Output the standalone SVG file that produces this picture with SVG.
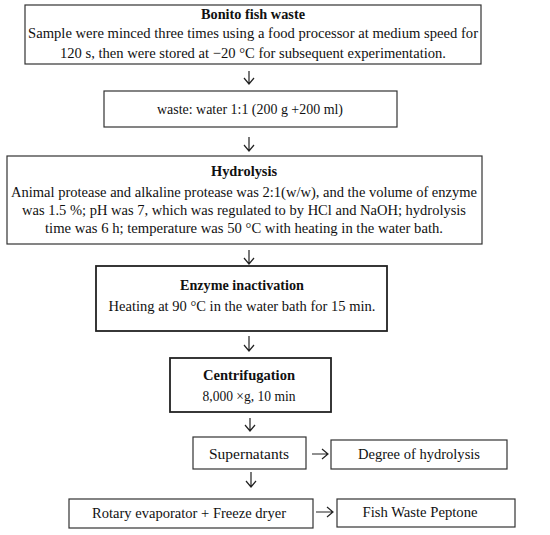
<svg xmlns="http://www.w3.org/2000/svg" width="550" height="535" viewBox="0 0 550 535">
<style>
.b{fill:#fff;stroke:#333;stroke-width:1.2}
.bt{fill:#fff;stroke:#222;stroke-width:1.8}
text{font-family:"Liberation Serif","Times New Roman",serif;font-size:15px;fill:#111;text-anchor:middle}
.h{font-weight:bold}
.c{fill:none;stroke:#222;stroke-width:1.2}
</style>
<rect width="550" height="535" fill="#fff"/>
<g id="n1">
<rect class="b" x="25" y="5" width="456" height="59"/>
<text class="h" x="253" y="19" textLength="104" lengthAdjust="spacingAndGlyphs">Bonito fish waste</text>
<text x="253" y="38" textLength="450" lengthAdjust="spacingAndGlyphs">Sample were minced three times using a food processor at medium speed for</text>
<text x="253" y="58" textLength="386" lengthAdjust="spacingAndGlyphs">120 s, then were stored at −20 °C for subsequent experimentation.</text>
</g>
<g id="n2">
<rect class="b" x="104" y="91" width="293" height="36"/>
<text x="250" y="114" textLength="186" lengthAdjust="spacingAndGlyphs">waste: water 1:1 (200 g +200 ml)</text>
</g>
<g id="n3">
<rect class="b" x="7" y="156" width="475" height="88"/>
<text class="h" x="244" y="176" textLength="66" lengthAdjust="spacingAndGlyphs">Hydrolysis</text>
<text x="244" y="197" textLength="466" lengthAdjust="spacingAndGlyphs">Animal protease and alkaline protease was 2:1(w/w), and the volume of enzyme</text>
<text x="244" y="215" textLength="444" lengthAdjust="spacingAndGlyphs">was 1.5 %; pH was 7, which was regulated to by HCl and NaOH; hydrolysis</text>
<text x="244" y="233" textLength="398" lengthAdjust="spacingAndGlyphs">time was 6 h; temperature was 50 °C with heating in the water bath.</text>
</g>
<g id="n4">
<rect class="bt" x="96" y="266" width="291" height="65"/>
<text class="h" x="242" y="290" textLength="124" lengthAdjust="spacingAndGlyphs">Enzyme inactivation</text>
<text x="242" y="311" textLength="267" lengthAdjust="spacingAndGlyphs">Heating at 90 °C in the water bath for 15 min.</text>
</g>
<g id="n5">
<rect class="bt" x="170" y="358" width="161" height="54"/>
<text class="h" x="249" y="380" textLength="92" lengthAdjust="spacingAndGlyphs">Centrifugation</text>
<text x="249" y="401" textLength="93" lengthAdjust="spacingAndGlyphs">8,000 ×g, 10 min</text>
</g>
<g id="n6">
<rect class="b" x="193" y="437" width="113" height="32"/>
<text x="249" y="459" textLength="80" lengthAdjust="spacingAndGlyphs">Supernatants</text>
</g>
<g id="n7">
<rect class="b" x="331" y="440" width="176" height="29"/>
<text x="419" y="459" textLength="122" lengthAdjust="spacingAndGlyphs">Degree of hydrolysis</text>
</g>
<g id="n8">
<rect class="b" x="69" y="499" width="244" height="29"/>
<text x="189" y="518" textLength="194" lengthAdjust="spacingAndGlyphs">Rotary evaporator + Freeze dryer</text>
</g>
<g id="n9">
<rect class="b" x="337" y="499" width="178" height="28"/>
<text x="420" y="517" textLength="115" lengthAdjust="spacingAndGlyphs">Fish Waste Peptone</text>
</g>
<g id="connectors">
<path class="c" d="M249 71V84M244 78L249 84L254 78"/>
<path class="c" d="M249 137V151M244 145L249 151L254 145"/>
<path class="c" d="M249 250V264M244 258L249 264L254 258"/>
<path class="c" d="M249 336V351M244 345L249 351L254 345"/>
<path class="c" d="M250 418V431M245 425L250 431L255 425"/>
<path class="c" d="M251 472V487M246 481L251 487L256 481"/>
<path class="c" d="M312 454H328M322 449L328 454L322 459"/>
<path class="c" d="M316 512H333M327 507L333 512L327 517"/>
</g>
</svg>
